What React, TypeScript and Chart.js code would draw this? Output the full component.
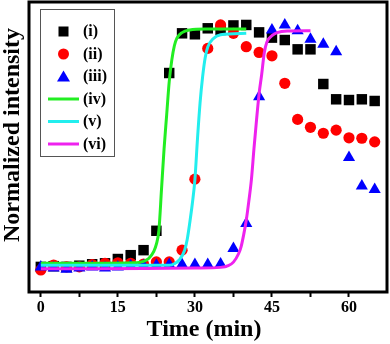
import { useEffect, useRef } from "react";
import { Chart, registerables } from "chart.js";

Chart.register(...registerables);

// ---- data ----
const timeMin = [
  0, 2.5, 5, 7.5, 10, 12.5, 15, 17.5, 20, 22.5, 25, 27.5, 30, 32.5, 35, 37.5,
  40, 42.5, 45, 47.5, 50, 52.5, 55, 57.5, 60, 62.5, 65,
];
const seriesI = [
  0.005, 0.008, 0.005, 0.01, 0.016, 0.02, 0.038, 0.054, 0.075, 0.156, 0.816,
  0.982, 0.978, 1.003, 0.996, 1.015, 1.017, 0.986, 0.964, 0.954, 0.915, 0.915,
  0.77, 0.706, 0.703, 0.706, 0.699,
];
const seriesII = [
  -0.008, 0.013, 0.005, 0.005, 0.015, 0.02, 0.022, 0.02, 0.017, 0.026, 0.026,
  0.075, 0.372, 0.919, 1.017, 0.982, 0.926, 0.902, 0.888, 0.773, 0.622, 0.589,
  0.564, 0.577, 0.545, 0.543, 0.528,
];
const seriesIII = [
  0.005, 0.0, -0.005, 0.0, 0.005, 0.0, 0.005, 0.01, 0.01, 0.012, 0.015, 0.015,
  0.015, 0.015, 0.017, 0.082, 0.187, 0.717, 0.996, 1.017, 0.993, 0.957, 0.936,
  0.905, 0.463, 0.343, 0.329,
];

const fitIVTime = [0, 10, 18, 20, 21, 22, 22.5, 23, 23.5, 24, 24.5, 25, 25.5, 26, 26.5, 27.5, 29, 32, 40];
const fitIVValue = [0.02, 0.02, 0.022, 0.028, 0.04, 0.07, 0.1, 0.16, 0.33, 0.5, 0.64, 0.78, 0.87, 0.93, 0.962, 0.985, 0.996, 1.0, 1.0];

const fitVTime = [0, 10, 20, 25, 26, 27, 28, 28.5, 29, 29.5, 30, 30.5, 31, 31.5, 32, 32.5, 33.5, 35, 40];
const fitVValue = [0.012, 0.012, 0.012, 0.012, 0.018, 0.035, 0.075, 0.12, 0.19, 0.27, 0.37, 0.54, 0.69, 0.8, 0.88, 0.925, 0.958, 0.976, 0.982];

const fitVITime = [0, 10, 20, 30, 35, 36.5, 37.5, 38.5, 39, 39.5, 40, 40.5, 41, 41.5, 42, 42.5, 43, 43.5, 44, 45, 46, 48, 52.5];
const fitVIValue = [-0.003, -0.003, -0.002, 0, 0.003, 0.01, 0.025, 0.06, 0.09, 0.14, 0.2, 0.28, 0.37, 0.5, 0.62, 0.73, 0.81, 0.9, 0.945, 0.972, 0.985, 0.992, 0.993];

const xTickValues = [0, 7.5, 15, 22.5, 30, 37.5, 45, 52.5, 60];
const xTickLabels = ["0", "", "15", "", "30", "", "45", "", "60"];

const seriesLabels = ["(i)", "(ii)", "(iii)", "(iv)", "(v)", "(vi)"];

const FONT = "'Liberation Serif', 'DejaVu Serif', serif";

function pts(xs: number[], ys: number[]) {
  return xs.map((x, i) => ({ x, y: ys[i] }));
}

const framePlugin = {
  id: "frameLegendTitles",
  afterDatasetsDraw(chart: any) {
    const { ctx, chartArea: a } = chart;
    ctx.save();
    ctx.strokeStyle = "#000";
    ctx.lineWidth = 3;
    ctx.strokeRect(a.left, a.top, a.right - a.left, a.bottom - a.top);

    // legend box
    const bx = 40.5, by = 9.5, bw = 74, bh = 147;
    ctx.fillStyle = "#fff";
    ctx.fillRect(bx, by, bw, bh);
    ctx.strokeStyle = "#555";
    ctx.lineWidth = 1;
    ctx.strokeRect(bx, by, bw, bh);

    chart.data.datasets.forEach((ds: any, i: number) => {
      const y = 31.5 + i * 22.5;
      const cx = 63.5;
      if (ds.showLine) {
        ctx.strokeStyle = ds.borderColor;
        ctx.lineWidth = 3;
        ctx.beginPath();
        ctx.moveTo(48, y);
        ctx.lineTo(79, y);
        ctx.stroke();
      } else {
        ctx.fillStyle = ds.backgroundColor;
        if (ds.pointStyle === "rect") {
          ctx.fillRect(cx - 5, y - 5, 10, 10);
        } else if (ds.pointStyle === "circle") {
          ctx.beginPath();
          ctx.arc(cx, y, 5.5, 0, Math.PI * 2);
          ctx.fill();
        } else {
          ctx.beginPath();
          ctx.moveTo(cx, y - 6);
          ctx.lineTo(cx + 6.5, y + 5);
          ctx.lineTo(cx - 6.5, y + 5);
          ctx.closePath();
          ctx.fill();
        }
      }
      ctx.fillStyle = "#000";
      ctx.font = `bold 16px ${FONT}`;
      ctx.textBaseline = "middle";
      ctx.textAlign = "left";
      ctx.fillText(ds.label, 83, y + 0.5);
    });
    ctx.restore();
  },
  afterDraw(chart: any) {
    const { ctx } = chart;
    ctx.save();
    ctx.fillStyle = "#000";
    ctx.font = `bold 24px ${FONT}`;
    ctx.textAlign = "center";
    ctx.textBaseline = "alphabetic";
    ctx.fillText("Time (min)", 204, 336);
    ctx.translate(19, 135);
    ctx.rotate(-Math.PI / 2);
    ctx.fillText("Normalized intensity", 0, 0);
    ctx.restore();
  },
};

export default function App() {
  const ref = useRef<HTMLCanvasElement>(null);

  useEffect(() => {
    if (!ref.current) return;
    const chart = new Chart(ref.current, {
      type: "scatter",
      data: {
        datasets: [
          {
            label: seriesLabels[0],
            data: pts(timeMin, seriesI),
            pointStyle: "rect",
            pointRadius: 7.4,
            backgroundColor: "#000",
            borderColor: "#000",
            borderWidth: 0,
            showLine: false,
            order: 6,
          },
          {
            label: seriesLabels[1],
            data: pts(timeMin, seriesII),
            pointStyle: "circle",
            pointRadius: 5.6,
            backgroundColor: "#ff0000",
            borderColor: "#ff0000",
            borderWidth: 0,
            showLine: false,
            order: 5,
          },
          {
            label: seriesLabels[2],
            data: pts(timeMin, seriesIII),
            pointStyle: "triangle",
            pointRadius: 7,
            backgroundColor: "#0000ff",
            borderColor: "#0000ff",
            borderWidth: 0,
            showLine: false,
            order: 4,
          },
          {
            label: seriesLabels[3],
            data: pts(fitIVTime, fitIVValue),
            showLine: true,
            borderColor: "#22ee22",
            backgroundColor: "#22ee22",
            borderWidth: 3,
            pointRadius: 0,
            cubicInterpolationMode: "monotone",
            order: 3,
          },
          {
            label: seriesLabels[4],
            data: pts(fitVTime, fitVValue),
            showLine: true,
            borderColor: "#22eeee",
            backgroundColor: "#22eeee",
            borderWidth: 3,
            pointRadius: 0,
            cubicInterpolationMode: "monotone",
            order: 2,
          },
          {
            label: seriesLabels[5],
            data: pts(fitVITime, fitVIValue),
            showLine: true,
            borderColor: "#ee22ee",
            backgroundColor: "#ee22ee",
            borderWidth: 3,
            pointRadius: 0,
            cubicInterpolationMode: "monotone",
            order: 1,
          },
        ],
      },
      options: {
        animation: false,
        responsive: false,
        devicePixelRatio: 1,
        layout: { autoPadding: false, padding: { left: 29, top: 2, right: 3, bottom: 0 } },
        plugins: {
          legend: { display: false },
          tooltip: { enabled: false },
        },
        scales: {
          x: {
            type: "linear",
            min: -2.3,
            max: 67.4,
            afterFit: (scale: any) => {
              scale.height = 52;
              scale.paddingLeft = 0;
              scale.paddingRight = 0;
            },
            afterBuildTicks: (scale: any) => {
              scale.ticks = xTickValues.map((v) => ({ value: v }));
            },
            ticks: {
              color: "#000",
              font: { family: FONT, size: 16, weight: "bold", lineHeight: 1 },
              padding: 3,
              maxRotation: 0,
              autoSkip: false,
              callback: (_v: any, i: number) => xTickLabels[i],
            },
            grid: {
              display: true,
              drawOnChartArea: false,
              drawTicks: true,
              tickLength: 5,
              tickWidth: 2,
              tickColor: "#000",
              color: "#000",
            },
            border: { display: false },
          },
          y: {
            type: "linear",
            display: false,
            min: -0.1,
            max: 1.113,
          },
        },
      },
      plugins: [framePlugin],
    });
    return () => chart.destroy();
  }, []);

  return (
    <div style={{ position: "fixed", left: 0, top: 0, width: 390, height: 344, background: "#fff" }}>
      <canvas ref={ref} width={390} height={344} />
    </div>
  );
}
